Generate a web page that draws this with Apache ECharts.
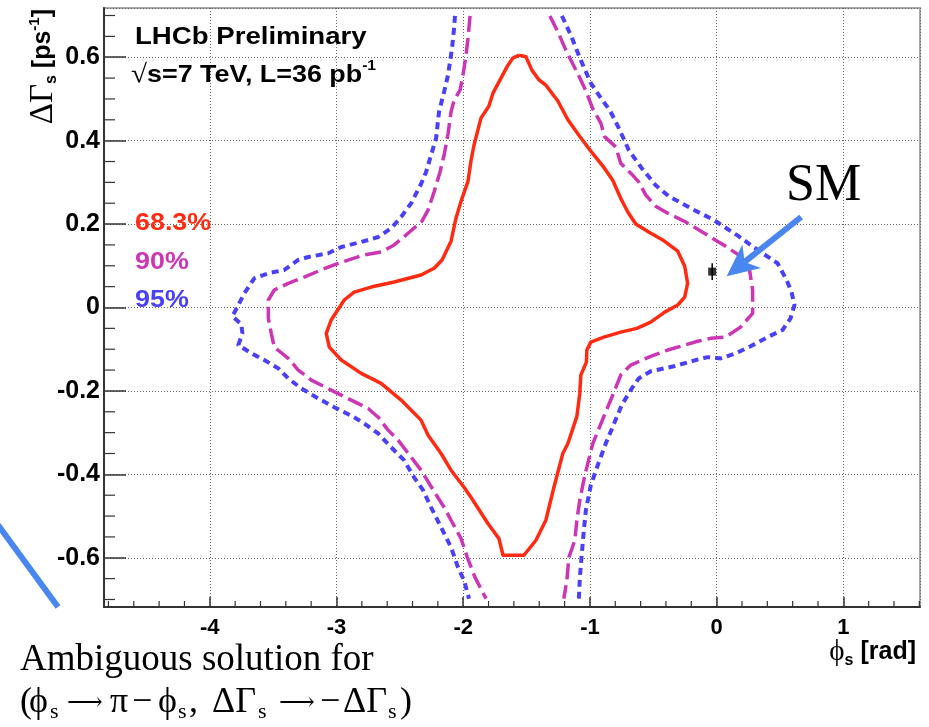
<!DOCTYPE html>
<html>
<head>
<meta charset="utf-8">
<script src="https://cdn.jsdelivr.net/npm/echarts@6/dist/echarts.min.js"></script>
<style>
  html, body { margin: 0; padding: 0; background: #fff; }
  #c { width: 929px; height: 727px; }
</style>
</head>
<body>
<div id="c"></div>
<script>
// Axis extents: phi_s [rad] and DeltaGamma_s [ps^-1]
const xRange = [-4.835, 1.605];
const yRange = [-0.718, 0.718];

// 68.3% CL contour (closed)
const contour683 = [
  [-1.560,0.605],[-1.505,0.601],[-1.458,0.569],[-1.403,0.546],[-1.348,0.533],[-1.253,0.495],
  [-1.174,0.450],[-1.087,0.413],[-0.993,0.375],[-0.898,0.339],[-0.820,0.305],[-0.757,0.262],
  [-0.701,0.229],[-0.638,0.200],[-0.536,0.181],[-0.426,0.162],[-0.307,0.135],[-0.252,0.099],
  [-0.229,0.058],[-0.252,0.025],[-0.307,0.006],[-0.410,-0.011],[-0.520,-0.035],[-0.630,-0.050],
  [-0.757,-0.059],[-0.890,-0.071],[-0.993,-0.083],[-1.024,-0.102],[-1.028,-0.131],[-1.072,-0.162],
  [-1.080,-0.206],[-1.103,-0.261],[-1.174,-0.326],[-1.214,-0.350],[-1.284,-0.431],[-1.348,-0.510],
  [-1.426,-0.558],[-1.521,-0.594],[-1.686,-0.594],[-1.718,-0.554],[-1.805,-0.518],[-1.939,-0.455],
  [-1.994,-0.431],[-2.096,-0.390],[-2.175,-0.350],[-2.277,-0.306],[-2.333,-0.270],[-2.490,-0.222],
  [-2.648,-0.182],[-2.805,-0.158],[-2.963,-0.126],[-3.057,-0.095],[-3.081,-0.062],[-3.042,-0.030],
  [-2.939,0.018],[-2.861,0.037],[-2.727,0.049],[-2.545,0.061],[-2.333,0.078],[-2.230,0.094],
  [-2.167,0.114],[-2.096,0.159],[-2.057,0.214],[-2.017,0.255],[-1.962,0.303],[-1.939,0.351],
  [-1.915,0.389],[-1.860,0.454],[-1.797,0.483],[-1.765,0.514],[-1.702,0.550],[-1.647,0.581],
  [-1.608,0.598],[-1.560,0.605]
];

// 90% CL contour, left and right branches (open at the plot edges)
const contour90Left = [
  [-1.946,0.699],[-1.962,0.646],[-1.978,0.605],[-2.002,0.557],[-2.025,0.521],[-2.072,0.497],
  [-2.096,0.469],[-2.120,0.416],[-2.151,0.365],[-2.183,0.325],[-2.230,0.277],[-2.277,0.234],
  [-2.325,0.207],[-2.435,0.178],[-2.545,0.150],[-2.648,0.133],[-2.782,0.126],[-2.987,0.106],
  [-3.121,0.090],[-3.255,0.073],[-3.381,0.058],[-3.491,0.042],[-3.538,0.018],[-3.538,-0.026],
  [-3.515,-0.062],[-3.491,-0.095],[-3.381,-0.122],[-3.302,-0.150],[-3.199,-0.174],[-3.042,-0.198],
  [-2.884,-0.222],[-2.750,-0.242],[-2.671,-0.263],[-2.593,-0.294],[-2.514,-0.318],[-2.411,-0.359],
  [-2.333,-0.390],[-2.230,-0.441],[-2.151,-0.479],[-2.096,-0.510],[-2.017,-0.554],[-1.970,-0.597],
  [-1.907,-0.647],[-1.820,-0.698]
];
const contour90Right = [
  [-1.316,0.699],[-1.253,0.661],[-1.190,0.617],[-1.095,0.560],[-1.032,0.519],[-0.977,0.476],
  [-0.914,0.442],[-0.883,0.409],[-0.796,0.385],[-0.757,0.346],[-0.678,0.322],[-0.615,0.301],
  [-0.560,0.270],[-0.481,0.243],[-0.386,0.226],[-0.244,0.205],[-0.087,0.176],[0.071,0.147],
  [0.189,0.123],[0.260,0.090],[0.284,0.042],[0.284,-0.014],[0.189,-0.047],[0.071,-0.071],
  [-0.047,-0.074],[-0.150,-0.081],[-0.386,-0.102],[-0.520,-0.117],[-0.678,-0.138],[-0.757,-0.162],
  [-0.820,-0.210],[-0.906,-0.273],[-0.977,-0.326],[-1.040,-0.402],[-1.080,-0.462],[-1.103,-0.510],
  [-1.119,-0.558],[-1.166,-0.599],[-1.182,-0.654],[-1.206,-0.698]
];

// 95% CL contour, left and right branches
const contour95Left = [
  [-2.065,0.699],[-2.072,0.670],[-2.088,0.622],[-2.120,0.557],[-2.151,0.517],[-2.191,0.469],
  [-2.214,0.406],[-2.254,0.365],[-2.293,0.325],[-2.333,0.296],[-2.411,0.250],[-2.490,0.217],
  [-2.569,0.190],[-2.671,0.169],[-2.805,0.157],[-2.963,0.145],[-3.065,0.130],[-3.223,0.121],
  [-3.302,0.114],[-3.412,0.090],[-3.538,0.082],[-3.649,0.070],[-3.727,0.034],[-3.783,0.001],
  [-3.822,-0.021],[-3.751,-0.040],[-3.743,-0.062],[-3.775,-0.090],[-3.672,-0.110],[-3.570,-0.126],
  [-3.459,-0.146],[-3.381,-0.170],[-3.278,-0.194],[-3.144,-0.218],[-3.018,-0.239],[-2.861,-0.263],
  [-2.782,-0.278],[-2.671,-0.302],[-2.569,-0.335],[-2.467,-0.366],[-2.388,-0.407],[-2.317,-0.438],
  [-2.254,-0.479],[-2.175,-0.527],[-2.096,-0.575],[-2.041,-0.623],[-1.994,-0.654],[-1.954,-0.698]
];
const contour95Right = [
  [-1.221,0.699],[-1.151,0.653],[-1.072,0.593],[-0.993,0.538],[-0.914,0.502],[-0.843,0.473],
  [-0.772,0.430],[-0.693,0.377],[-0.591,0.334],[-0.481,0.293],[-0.378,0.267],[-0.205,0.238],
  [-0.024,0.210],[0.173,0.171],[0.323,0.138],[0.481,0.106],[0.552,0.066],[0.591,0.037],
  [0.615,0.006],[0.583,-0.026],[0.520,-0.054],[0.402,-0.071],[0.268,-0.093],[0.150,-0.110],
  [0.032,-0.122],[-0.071,-0.119],[-0.165,-0.126],[-0.339,-0.141],[-0.520,-0.153],[-0.615,-0.170],
  [-0.678,-0.198],[-0.749,-0.234],[-0.812,-0.280],[-0.875,-0.326],[-0.938,-0.378],[-0.993,-0.426],
  [-1.032,-0.486],[-1.048,-0.534],[-1.064,-0.590],[-1.080,-0.650],[-1.087,-0.698]
];

// Standard Model expectation with its uncertainty on DeltaGamma_s
const smPoint = [-0.035, 0.086];
const smError = 0.02;

// SM arrow: tail and tip in data units
const smArrowTail = [0.667, 0.217];
const smArrowTip = [0.079, 0.075];

const levelLabels = ['68.3%', '90%', '95%'];

// Minor tick positions (0.2 rad on phi_s, 0.05 ps^-1 on DeltaGamma_s), majors excluded
const xMinorTicks = [];
for (let i = -24; i <= 8; i++) { if (i % 5 !== 0) xMinorTicks.push(i / 5); }
const yMinorTicks = [];
for (let i = -14; i <= 14; i++) { if (i % 4 !== 0) yMinorTicks.push(i / 20); }

const SANS = '"Liberation Sans", Arial, Helvetica, sans-serif';
const SERIF = '"Liberation Serif", "Times New Roman", "DejaVu Serif", serif';
const RED = '#ff2a12', MAG = '#cc35b4', BLUE = '#4a40f8', ARROW = '#4a86f0', AXIS = '#333';

const chart = echarts.init(document.getElementById('c'), null, { renderer: 'canvas' });

function contourSeries(data, color, dash, width) {
  return {
    type: 'line', data: data, showSymbol: false, symbol: 'none', smooth: false,
    silent: true, clip: true,
    lineStyle: { color: color, width: width, type: dash, cap: 'butt', join: 'round' },
    z: 3
  };
}

// Short inward minor ticks along the bottom (x) or left (y) axis
function minorTickSeries(values, onX, len) {
  return {
    type: 'custom', silent: true, clip: false, z: 6,
    data: values.map(v => onX ? [v, yRange[0]] : [xRange[0], v]),
    renderItem: function (params, api) {
      const p = api.coord([api.value(0), api.value(1)]);
      return {
        type: 'line',
        shape: onX ? { x1: p[0], y1: p[1], x2: p[0], y2: p[1] - len }
                   : { x1: p[0], y1: p[1], x2: p[0] + len, y2: p[1] },
        style: { stroke: AXIS, lineWidth: 1.2 }
      };
    }
  };
}

const axisCommon = {
  type: 'value',
  axisLine: { show: true, onZero: false, lineStyle: { color: AXIS, width: 2 } },
  splitLine: { show: true, lineStyle: { color: '#666', width: 1, type: [1, 2] } },
  minorTick: { show: false }
};

chart.setOption({
  animation: false,
  backgroundColor: '#ffffff',
  grid: { left: 104, right: 9, top: 8, bottom: 120, show: true, borderColor: '#a8a8a8', borderWidth: 2,
          containLabel: false, outerBoundsMode: 'none' },
  xAxis: Object.assign({}, axisCommon, {
    min: xRange[0], max: xRange[1], splitNumber: 5,
    axisTick: { show: true, inside: true, length: 10, lineStyle: { color: AXIS, width: 1.5 } },
    axisLabel: { margin: 10, fontSize: 22, fontWeight: 'bold', fontFamily: SANS, color: '#000',
                 showMinLabel: false, showMaxLabel: false }
  }),
  yAxis: Object.assign({}, axisCommon, {
    min: yRange[0], max: yRange[1], splitNumber: 7,
    axisTick: { show: true, inside: true, length: 22, lineStyle: { color: AXIS, width: 1.5 } },
    axisLabel: { margin: 4, fontSize: 25, fontWeight: 'bold', fontFamily: SANS, color: '#000',
                 showMinLabel: false, showMaxLabel: false }
  }),
  series: [
    minorTickSeries(xMinorTicks, true, 6),
    minorTickSeries(yMinorTicks, false, 11),
    contourSeries(contour95Left, BLUE, [7, 5], 4),
    contourSeries(contour95Right, BLUE, [7, 5], 4),
    contourSeries(contour90Left, MAG, [16, 6], 3.5),
    contourSeries(contour90Right, MAG, [16, 6], 3.5),
    contourSeries(contour683, RED, 'solid', 3.5),
    {
      type: 'line', data: [[smPoint[0], smPoint[1] - smError], [smPoint[0], smPoint[1] + smError]],
      showSymbol: false, symbol: 'none', silent: true,
      lineStyle: { color: '#000', width: 1.5 }, z: 4
    },
    {
      type: 'scatter', data: [smPoint], symbol: 'rect', symbolSize: 8, silent: true,
      itemStyle: { color: '#000' }, z: 5
    }
  ]
});

// Lay out a row of text pieces with individual fonts and vertical offsets;
// a piece with its own x offset is placed there instead of after the previous one
const measureCtx = document.createElement('canvas').getContext('2d');
function textRow(pieces, x, y, align, extra) {
  const widths = pieces.map(p => {
    measureCtx.font = (p.w || 'normal') + ' ' + p.s + 'px ' + p.f;
    return measureCtx.measureText(p.t).width;
  });
  const total = widths.reduce((a, b) => a + b, 0);
  let cx = align === 'right' ? -total : 0;
  const children = pieces.map((p, i) => {
    if (p.x !== undefined) cx = p.x;
    const el = {
      type: 'text', x: cx, y: p.dy || 0, silent: true,
      style: { text: p.t, fontFamily: p.f, fontSize: p.s, fontWeight: p.w || 'normal',
               fill: p.c || '#000', align: 'left', verticalAlign: 'middle' }
    };
    cx += widths[i];
    return el;
  });
  return Object.assign({ type: 'group', x: x, y: y, children: children, silent: true }, extra || {});
}

const tail = chart.convertToPixel({ gridIndex: 0 }, smArrowTail);
const tip = chart.convertToPixel({ gridIndex: 0 }, smArrowTip);
const dx = tip[0] - tail[0], dy = tip[1] - tail[1];
const len = Math.sqrt(dx * dx + dy * dy);
const ux = dx / len, uy = dy / len, nx = -uy, ny = ux;
const headLen = 32, headHalf = 15, notch = 9;
const baseX = tip[0] - ux * headLen, baseY = tip[1] - uy * headLen;
const notchX = tip[0] - ux * (headLen - notch), notchY = tip[1] - uy * (headLen - notch);

chart.setOption({
  graphic: [
    // y axis title
    textRow([
      { t: 'ΔΓ', f: SERIF, s: 33 },
      { t: 's', f: SANS, s: 16, w: 'bold', dy: 9 },
      { t: ' [ps', f: SANS, s: 25, w: 'bold' },
      { t: '-1', f: SANS, s: 15, w: 'bold', dy: -8 },
      { t: ']', f: SANS, s: 25, w: 'bold' }
    ], 43, 9, 'right', { rotation: Math.PI / 2 }),
    // x axis title
    textRow([
      { t: 'ϕ', f: SERIF, s: 29 },
      { t: 's', f: SANS, s: 16, w: 'bold', dy: 9 },
      { t: ' [rad]', f: SANS, s: 25, w: 'bold' }
    ], 916, 652, 'right'),
    // experiment labels
    textRow([{ t: 'LHCb Preliminary', f: SANS, s: 24, w: 'bold' }], 135, 37, 'left', { scaleX: 1.15 }),
    textRow([
      { t: '√', f: SERIF, s: 26 },
      { t: 's=7 TeV, L=36 pb', f: SANS, s: 24, w: 'bold' },
      { t: '-1', f: SANS, s: 14, w: 'bold', dy: -9 }
    ], 131, 75, 'left', { scaleX: 1.12 }),
    // confidence level labels
    textRow([{ t: levelLabels[0], f: SANS, s: 24, w: 'bold', c: RED }], 135, 223, 'left', { scaleX: 1.12 }),
    textRow([{ t: levelLabels[1], f: SANS, s: 24, w: 'bold', c: MAG }], 135, 262, 'left', { scaleX: 1.12 }),
    textRow([{ t: levelLabels[2], f: SANS, s: 24, w: 'bold', c: BLUE }], 135, 300, 'left', { scaleX: 1.12 }),
    // SM annotation
    textRow([{ t: 'SM', f: SERIF, s: 52 }], 786, 186, 'left'),
    {
      type: 'line', silent: true, z: 10,
      shape: { x1: tail[0], y1: tail[1], x2: notchX, y2: notchY },
      style: { stroke: ARROW, lineWidth: 6 }
    },
    {
      type: 'polygon', silent: true, z: 10,
      shape: { points: [
        [tip[0], tip[1]],
        [baseX + nx * headHalf, baseY + ny * headHalf],
        [notchX, notchY],
        [baseX - nx * headHalf, baseY - ny * headHalf]
      ] },
      style: { fill: ARROW }
    },
    // pointer towards the ambiguous solution
    {
      type: 'line', silent: true, z: 10,
      shape: { x1: -2, y1: 525, x2: 58, y2: 607 },
      style: { stroke: ARROW, lineWidth: 6 }
    },
    textRow([{ t: 'Ambiguous solution for', f: SERIF, s: 37 }], 20, 660, 'left'),
    textRow([
      { t: '(', f: SERIF, s: 36, x: 0 },
      { t: 'ϕ', f: SERIF, s: 36, x: 9 },
      { t: 's', f: SERIF, s: 22, dy: 9, x: 30 },
      { t: '⟶', f: SERIF, s: 25, x: 47 },
      { t: 'π', f: SERIF, s: 36, x: 90 },
      { t: '−', f: SERIF, s: 36, x: 112 },
      { t: 'ϕ', f: SERIF, s: 36, x: 138 },
      { t: 's', f: SERIF, s: 22, dy: 9, x: 158 },
      { t: ',', f: SERIF, s: 36, x: 169 },
      { t: 'ΔΓ', f: SERIF, s: 36, x: 192 },
      { t: 's', f: SERIF, s: 22, dy: 9, x: 238 },
      { t: '⟶', f: SERIF, s: 25, x: 259 },
      { t: '−', f: SERIF, s: 36, x: 300 },
      { t: 'ΔΓ', f: SERIF, s: 36, x: 323 },
      { t: 's', f: SERIF, s: 22, dy: 9, x: 368 },
      { t: ')', f: SERIF, s: 36, x: 380 }
    ], 20, 703, 'left')
  ]
});
</script>
</body>
</html>
